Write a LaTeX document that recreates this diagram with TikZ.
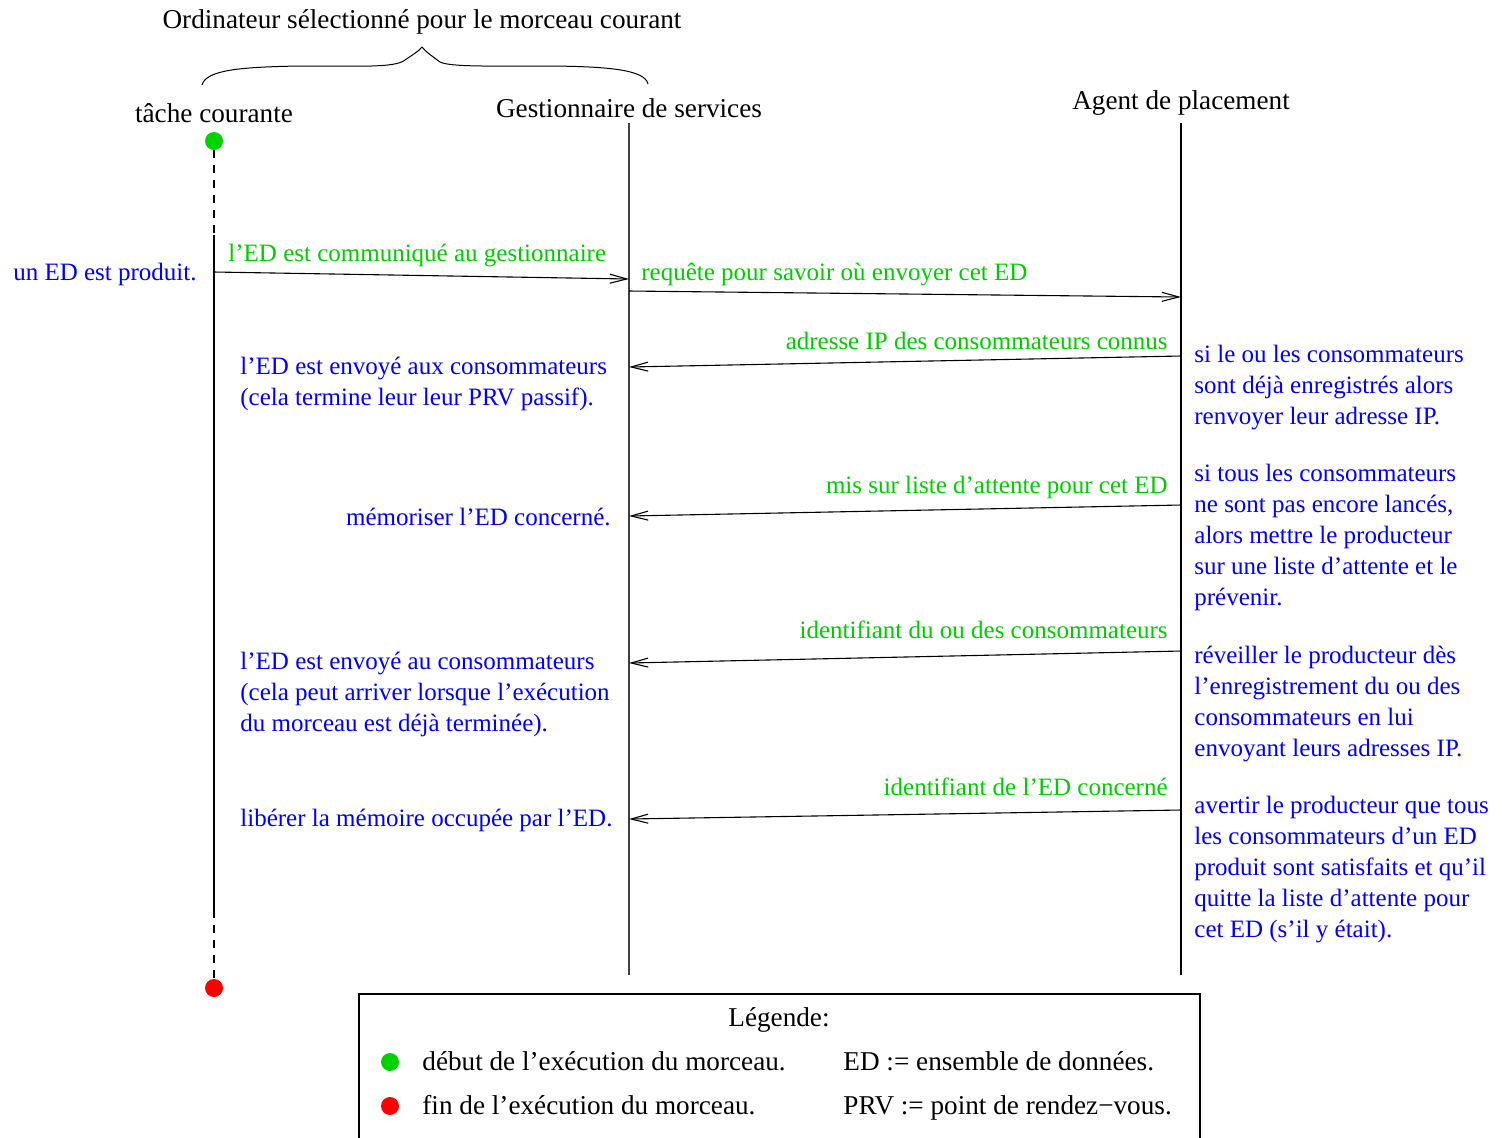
\documentclass[tikz,border=0pt]{standalone}
\usepackage{fontspec}
\setmainfont{Liberation Serif}
\usetikzlibrary{arrows.meta}
\definecolor{msggreen}{RGB}{0,205,0}
\definecolor{dotgreen}{RGB}{0,210,0}
\definecolor{notblue}{RGB}{0,0,255}
\definecolor{dotred}{RGB}{255,0,0}
\begin{document}
\begin{tikzpicture}[x=0.5pt,y=-0.5pt,
  every node/.style={font=\fontsize{13.6}{15.5}\selectfont, inner sep=0pt},
  small/.style={font=\fontsize{12.5}{15.5}\selectfont},
  life/.style={line width=0.55pt},
  lifedash/.style={line width=0.55pt, dash pattern=on 4pt off 3.5pt},
  msg/.style={line width=0.55pt, -{Straight Barb[length=8.5pt,width=4.5pt,line width=0.55pt]}},
  msglabel/.style={small, text=msggreen},
  note/.style={small, text=notblue, align=left},
  dot/.style={circle, minimum size=9pt, draw=none},
  hdr/.style={text=black}]
\useasboundingbox (0,0) rectangle (1502,1137);

% headers
\node[hdr] (title) at (422,22) {Ordinateur sélectionné pour le morceau courant};
\node[hdr] (htask) at (214,113) {tâche courante};
\node[hdr] (hgest) at (629,108) {Gestionnaire de services};
\node[hdr] (hagent) at (1181,103) {Agent de placement};

% brace grouping the task and the service manager
\draw[line width=0.5pt] (202,85) .. controls (206,70) and (240,67) .. (300,66)
  .. controls (360,66) and (395,68) .. (405,60) .. controls (412,55) and (418,52) .. (422,47)
  .. controls (426,52) and (432,56) .. (440,62) .. controls (450,67) and (490,66) .. (540,66)
  .. controls (610,66) and (645,70) .. (648,84);

% lifelines
\node[dot, fill=dotgreen] (start) at (214,141) {};
\node[dot, fill=dotred] (stop) at (214,988) {};
\coordinate (tA) at (214,235);
\coordinate (tB) at (214,910);
\draw[lifedash] (start) -- (tA);
\draw[life] (tA) -- (tB);
\draw[lifedash] (tB) -- (stop);
\coordinate (gtop) at (629,123);
\coordinate (gbot) at (629,975);
\draw[life, draw=black!75] (gtop) -- (gbot);
\coordinate (atop) at (1181,123);
\coordinate (abot) at (1181,975);
\draw[life] (atop) -- (abot);

% message end points
\coordinate (m1s) at (214,272);  \coordinate (m1e) at (629,279);
\coordinate (m2s) at (629,291);  \coordinate (m2e) at (1181,297);
\coordinate (m3s) at (1181,356); \coordinate (m3e) at (629,367);
\coordinate (m4s) at (1181,505); \coordinate (m4e) at (629,516);
\coordinate (m5s) at (1181,651); \coordinate (m5e) at (629,663);
\coordinate (m6s) at (1181,810); \coordinate (m6e) at (629,819);
\draw[msg] (m1s) -- (m1e);
\draw[msg] (m2s) -- (m2e);
\draw[msg] (m3s) -- (m3e);
\draw[msg] (m4s) -- (m4e);
\draw[msg] (m5s) -- (m5e);
\draw[msg] (m6s) -- (m6e);

% message labels
\node[msglabel, anchor=base west] (l1) at (228,261) {l’ED est communiqué au gestionnaire};
\node[msglabel, anchor=base west] (l2) at (641,280) {requête pour savoir où envoyer cet ED};
\node[msglabel, anchor=base east] (l3) at (1168,349) {adresse IP des consommateurs connus};
\node[msglabel, anchor=base east] (l4) at (1168,493) {mis sur liste d’attente pour cet ED};
\node[msglabel, anchor=base east] (l5) at (1168,638) {identifiant du ou des consommateurs};
\node[msglabel, anchor=base east] (l6) at (1168,795) {identifiant de l’ED concerné};

% notes on the task side
\node[note, anchor=base east] (n0) at (197,280) {un ED est produit.};
\node[note, anchor=north west] (n1) at (240,356.5) {l’ED est envoyé aux consommateurs\\(cela termine leur leur PRV passif).};
\node[note, anchor=base east] (n2) at (611,525) {mémoriser l’ED concerné.};
\node[note, anchor=north west] (n3) at (240,651.5) {l’ED est envoyé au consommateurs\\(cela peut arriver lorsque l’exécution\\du morceau est déjà terminée).};
\node[note, anchor=base west] (n4) at (240,826) {libérer la mémoire occupée par l’ED.};

% notes on the placement agent side
\node[note, anchor=north west] (r1) at (1194,344.5) {si le ou les consommateurs\\sont déjà enregistrés alors\\renvoyer leur adresse IP.};
\node[note, anchor=north west] (r2) at (1194,463.5) {si tous les consommateurs\\ne sont pas encore lancés,\\alors mettre le producteur\\sur une liste d’attente et le\\prévenir.};
\node[note, anchor=north west] (r3) at (1194,645.5) {réveiller le producteur dès\\l’enregistrement du ou des\\consommateurs en lui\\envoyant leurs adresses IP.};
\node[note, anchor=north west] (r4) at (1194,795.5) {avertir le producteur que tous\\les consommateurs d’un ED\\produit sont satisfaits et qu’il\\quitte la liste d’attente pour\\cet ED (s’il y était).};

% legend
\draw[line width=0.55pt] (359,1145) -- (359,994) -- (1200,994) -- (1200,1145);
\node (leg) at (779,1020) {Légende:};
\node[dot, fill=dotgreen] (lgreen) at (390,1062) {};
\node[dot, fill=dotred] (lred) at (390,1106) {};
\node[anchor=base west] (lt1) at (422,1070) {début de l’exécution du morceau.};
\node[anchor=base west] (lt2) at (422,1114) {fin de l’exécution du morceau.};
\node[anchor=base west] (lt3) at (843,1070) {ED := ensemble de données.};
\node[anchor=base west] (lt4) at (843,1114) {PRV := point de rendez−vous.};
\end{tikzpicture}
\end{document}
